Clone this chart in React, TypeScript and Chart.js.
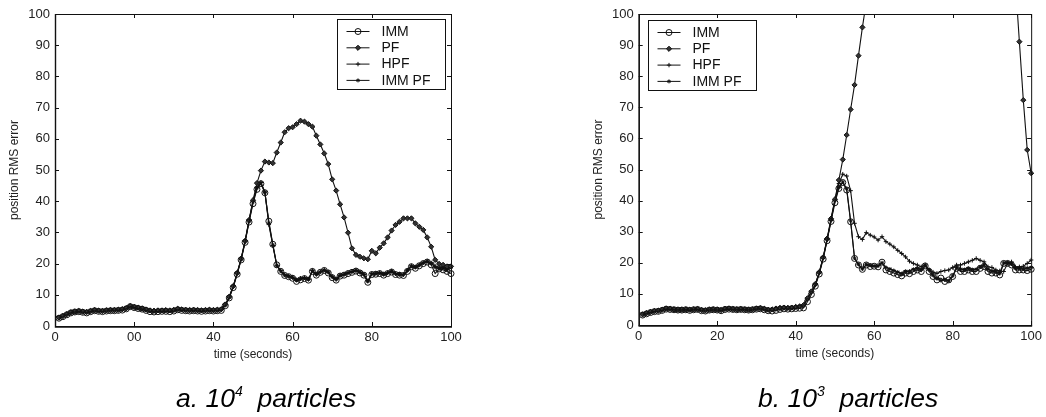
import React, { useEffect, useRef } from 'react';
import { Chart, registerables } from 'chart.js';

Chart.register(...registerables);

// ---------- data ----------
const time = [
  1, 2, 3, 4, 5, 6, 7, 8, 9, 10,
  11, 12, 13, 14, 15, 16, 17, 18, 19, 20,
  21, 22, 23, 24, 25, 26, 27, 28, 29, 30,
  31, 32, 33, 34, 35, 36, 37, 38, 39, 40,
  41, 42, 43, 44, 45, 46, 47, 48, 49, 50,
  51, 52, 53, 54, 55, 56, 57, 58, 59, 60,
  61, 62, 63, 64, 65, 66, 67, 68, 69, 70,
  71, 72, 73, 74, 75, 76, 77, 78, 79, 80,
  81, 82, 83, 84, 85, 86, 87, 88, 89, 90,
  91, 92, 93, 94, 95, 96, 97, 98, 99, 100,
];

// a. 10^4 particles
const immA = [
  2.5, 3.0, 3.6, 4.2, 4.5, 4.6, 4.4, 4.2, 4.6, 4.9,
  4.7, 4.6, 4.8, 4.9, 4.9, 5.0, 5.1, 5.5, 6.2, 5.9,
  5.6, 5.4, 5.0, 4.6, 4.5, 4.6, 4.7, 4.7, 4.6, 4.8,
  5.2, 5.0, 4.9, 4.8, 4.9, 4.8, 4.7, 4.8, 4.9, 4.8,
  4.9, 5.0, 6.5, 9.0, 12.3, 16.6, 21.2, 26.8, 33.3, 39.2,
  43.8, 45.6, 42.7, 33.6, 26.2, 19.6, 17.5, 16.2, 15.8, 15.3,
  14.3, 14.8, 15.2, 14.7, 17.5, 16.3, 17.2, 17.8, 17.0, 15.5,
  14.7, 16.0, 16.3, 16.8, 17.2, 17.6, 17.0, 16.3, 14.0, 16.5,
  16.6, 16.8, 16.3, 16.8, 17.3, 16.5, 16.3, 16.2, 17.5, 19.0,
  18.5, 19.3, 20.0, 20.5, 19.6, 16.8, 18.3, 18.0, 17.5, 16.8,
];
const pfA = [
  2.7, 3.2, 3.8, 4.4, 4.6, 4.8, 4.6, 4.5, 4.8, 5.1,
  4.9, 4.8, 5.0, 5.1, 5.1, 5.2, 5.4, 5.7, 6.4, 6.1,
  5.9, 5.6, 5.3, 5.0, 4.9, 5.0, 5.0, 5.1, 5.0, 5.2,
  5.5, 5.3, 5.2, 5.1, 5.2, 5.1, 5.0, 5.1, 5.2, 5.1,
  5.2, 5.4, 6.9, 9.4, 12.8, 17.0, 21.6, 27.3, 34.0, 40.3,
  45.8, 49.8, 52.7, 52.4, 52.2, 55.6, 58.8, 62.1, 63.4, 63.7,
  64.7, 65.8, 65.5, 64.7, 63.9, 61.0, 58.2, 55.3, 51.9, 47.0,
  43.4, 39.0, 34.8, 29.9, 24.9, 22.8, 22.2, 21.7, 21.4, 24.1,
  23.3, 25.1, 26.5, 28.4, 30.6, 32.4, 33.4, 34.5, 34.5, 34.5,
  32.9, 31.8, 30.8, 28.4, 25.4, 21.2, 19.9, 19.6, 19.1, 19.1,
];
const hpfA = [
  2.7, 3.2, 3.8, 4.3, 4.6, 4.8, 4.6, 4.5, 4.8, 5.0,
  4.9, 4.8, 5.0, 5.1, 5.0, 5.2, 5.3, 5.6, 6.3, 6.0,
  5.8, 5.5, 5.2, 4.9, 4.8, 4.9, 4.9, 5.0, 4.9, 5.1,
  5.4, 5.2, 5.1, 5.0, 5.1, 5.0, 4.9, 5.0, 5.1, 5.0,
  5.1, 5.3, 6.8, 9.3, 12.7, 16.9, 21.5, 27.2, 33.8, 40.0,
  44.5, 46.0, 43.0, 32.5, 25.8, 19.3, 17.8, 16.4, 16.0, 15.6,
  14.8, 15.3, 15.5, 15.0, 17.8, 16.6, 17.4, 18.0, 17.3, 15.9,
  15.0, 16.3, 16.6, 17.1, 17.5, 17.9, 17.3, 16.6, 14.5, 16.8,
  16.9, 17.1, 16.6, 17.1, 17.6, 16.8, 16.6, 16.5, 17.9, 19.3,
  18.9, 19.6, 20.3, 20.8, 20.2, 19.2, 18.6, 18.9, 18.2, 19.1,
];
const immPfA = [
  2.6, 3.1, 3.7, 4.3, 4.5, 4.7, 4.5, 4.4, 4.7, 5.0,
  4.8, 4.7, 4.9, 5.0, 5.0, 5.1, 5.2, 5.5, 6.2, 6.0,
  5.7, 5.4, 5.1, 4.8, 4.7, 4.8, 4.8, 4.9, 4.8, 5.0,
  5.3, 5.1, 5.0, 4.9, 5.0, 4.9, 4.8, 4.9, 5.0, 4.9,
  5.0, 5.2, 6.7, 9.2, 12.6, 16.8, 21.4, 27.0, 33.6, 39.8,
  44.3, 45.9, 42.8, 33.0, 26.0, 19.5, 17.6, 16.3, 15.9, 15.5,
  14.6, 15.1, 15.4, 14.9, 17.7, 16.5, 17.3, 17.9, 17.2, 15.7,
  14.9, 16.2, 16.5, 17.0, 17.4, 17.8, 17.2, 16.5, 14.3, 16.7,
  16.8, 17.0, 16.5, 17.0, 17.5, 16.7, 16.5, 16.4, 17.8, 19.2,
  18.8, 19.5, 20.2, 20.7, 20.0, 18.8, 18.4, 18.6, 18.0, 18.8,
];

// b. 10^3 particles
const immB = [
  3.2, 3.6, 4.0, 4.3, 4.4, 4.7, 5.1, 5.0, 4.9, 4.8,
  4.8, 4.9, 4.7, 4.9, 5.0, 4.6, 4.5, 4.8, 4.9, 4.8,
  4.6, 5.0, 5.1, 5.0, 4.9, 5.0, 4.9, 4.8, 4.9, 5.1,
  5.2, 4.9, 4.6, 4.5, 4.7, 5.0, 5.2, 5.1, 5.2, 5.3,
  5.4, 5.5, 7.5, 9.8, 12.5, 16.4, 21.2, 27.1, 33.3, 39.3,
  43.9, 45.8, 43.4, 33.2, 21.4, 19.3, 17.9, 19.3, 18.8, 18.9,
  18.7, 20.2, 17.7, 17.2, 16.7, 16.2, 15.8, 16.7, 16.5, 17.2,
  17.7, 17.2, 19.0, 17.2, 15.6, 14.5, 15.1, 14.0, 14.5, 15.6,
  18.2, 17.2, 17.2, 17.7, 17.2, 17.2, 18.2, 18.8, 17.2, 16.7,
  16.7, 16.1, 19.8, 19.8, 19.3, 17.7, 17.7, 17.7, 17.5, 17.9,
];
const pfB = [
  3.4, 3.8, 4.2, 4.5, 4.6, 4.9, 5.3, 5.2, 5.0, 4.9,
  4.9, 5.0, 4.9, 5.0, 5.1, 4.8, 4.7, 4.9, 5.0, 4.9,
  4.8, 5.2, 5.3, 5.1, 5.0, 5.1, 5.0, 4.9, 5.0, 5.3,
  5.4, 5.2, 4.9, 5.0, 5.3, 5.5, 5.6, 5.5, 5.6, 5.8,
  6.0, 6.4, 8.6, 10.8, 13.2, 17.0, 21.8, 27.8, 34.2, 40.4,
  46.6, 53.2, 61.1, 69.3, 77.2, 86.6, 95.7, 104, 113, 122,
  131, 140, 148, 156, 163, 170, 176, 182, 187, 191,
  195, 198, 200, 202, 203, 203, 202, 201, 199, 196,
  193, 189, 185, 180, 175, 169, 163, 157, 150, 143,
  136, 129, 122, 117, 113, 110, 91.1, 72.3, 56.3, 48.8,
];
const hpfB = [
  3.4, 3.8, 4.2, 4.5, 4.6, 4.9, 5.3, 5.2, 5.0, 4.9,
  4.9, 5.0, 4.9, 5.0, 5.1, 4.8, 4.7, 4.9, 5.0, 4.9,
  4.8, 5.2, 5.3, 5.1, 5.0, 5.1, 5.0, 4.9, 5.0, 5.3,
  5.4, 5.2, 4.9, 5.0, 5.3, 5.5, 5.6, 5.5, 5.6, 5.8,
  5.9, 6.2, 8.4, 10.5, 12.9, 16.7, 21.5, 27.4, 33.6, 40.2,
  45.5, 48.5, 47.9, 43.2, 32.7, 28.4, 27.5, 29.7, 28.9, 28.3,
  27.3, 28.4, 26.8, 26.0, 25.1, 24.0, 23.0, 21.9, 20.5, 19.8,
  19.3, 18.7, 19.3, 17.7, 17.0, 16.6, 17.2, 17.5, 17.7, 18.5,
  19.3, 19.3, 19.8, 20.3, 20.8, 21.4, 20.8, 20.3, 18.7, 18.5,
  17.7, 17.4, 17.2, 19.8, 20.3, 18.7, 18.7, 18.9, 19.8, 20.9,
];
const immPfB = [
  3.5, 3.9, 4.3, 4.5, 4.7, 5.0, 5.4, 5.3, 5.1, 5.0,
  5.0, 5.1, 5.0, 5.1, 5.2, 4.9, 4.8, 5.0, 5.1, 5.0,
  4.9, 5.3, 5.4, 5.2, 5.1, 5.2, 5.1, 5.0, 5.1, 5.4,
  5.5, 5.3, 5.0, 5.1, 5.4, 5.6, 5.7, 5.6, 5.7, 5.9,
  6.0, 6.3, 8.5, 10.6, 13.0, 16.8, 21.6, 27.5, 33.8, 40.0,
  44.2, 46.0, 43.8, 33.5, 21.5, 19.5, 18.0, 19.5, 19.2, 19.0,
  19.0, 20.0, 18.5, 18.0, 17.5, 17.0, 16.5, 17.2, 17.3, 17.9,
  18.2, 17.8, 19.2, 17.8, 16.0, 15.0, 14.3, 14.6, 14.2, 15.8,
  18.5, 18.0, 17.8, 18.2, 17.8, 17.9, 18.7, 19.3, 17.9, 17.3,
  17.1, 16.7, 20.0, 20.1, 19.6, 18.3, 18.2, 18.0, 18.3, 18.5,
];

const seriesNames = ['IMM', 'PF', 'HPF', 'IMM PF'];
const xTickLabelsA = ['0', '00', '40', '60', '80', '100'];
const xTickLabelsB = ['0', '20', '40', '60', '80', '100'];
const xTitle = 'time (seconds)';
const yTitle = 'position RMS error';
const captionA = ['a. 10', '4', 'particles'];
const captionB = ['b. 10', '3', 'particles'];

// ---------- styles ----------
const INK = '#111';
const seriesStyles = [
  { pointStyle: 'circle', radius: 3, fill: 'rgba(255,255,255,0)' },
  { pointStyle: 'rectRot', radius: 2.6, fill: '#333' },
  { pointStyle: 'cross', radius: 2.2, fill: INK },
  { pointStyle: 'star', radius: 2, fill: INK },
];
const FONT = '"Liberation Sans", Arial, Helvetica, sans-serif';

function drawMarker(ctx: CanvasRenderingContext2D, style: string, x: number, y: number, r: number, fill: string) {
  ctx.beginPath();
  if (style === 'circle') {
    ctx.arc(x, y, r, 0, Math.PI * 2);
    ctx.fillStyle = fill; ctx.fill(); ctx.stroke();
  } else if (style === 'rectRot') {
    ctx.moveTo(x, y - r); ctx.lineTo(x + r, y); ctx.lineTo(x, y + r); ctx.lineTo(x - r, y); ctx.closePath();
    ctx.fillStyle = fill; ctx.fill(); ctx.stroke();
  } else if (style === 'cross') {
    ctx.moveTo(x - r, y); ctx.lineTo(x + r, y); ctx.moveTo(x, y - r); ctx.lineTo(x, y + r); ctx.stroke();
  } else {
    const d = r * Math.SQRT1_2;
    ctx.moveTo(x - r, y); ctx.lineTo(x + r, y); ctx.moveTo(x, y - r); ctx.lineTo(x, y + r);
    ctx.moveTo(x - d, y - d); ctx.lineTo(x + d, y + d); ctx.moveTo(x - d, y + d); ctx.lineTo(x + d, y - d);
    ctx.stroke();
  }
}

const frameLegendPlugin = {
  id: 'frameLegend',
  afterDatasetsDraw(chart: any, _args: any, opts: any) {
    const { ctx, chartArea: a, scales } = chart;
    ctx.save();
    ctx.strokeStyle = INK;
    ctx.lineWidth = 1;
    ctx.strokeRect(a.left + 0.5, a.top + 0.5, a.right - a.left, a.bottom - a.top);
    ctx.lineWidth = 1.4;
    ctx.beginPath();
    ctx.moveTo(a.left + 0.5, a.top); ctx.lineTo(a.left + 0.5, a.bottom + 1);
    ctx.lineTo(a.right + 1, a.bottom + 1);
    ctx.stroke();
    ctx.lineWidth = 1;
    const tl = 4;
    ctx.beginPath();
    scales.x.ticks.forEach((t: any) => {
      const px = Math.round(scales.x.getPixelForValue(t.value)) + 0.5;
      ctx.moveTo(px, a.bottom); ctx.lineTo(px, a.bottom - tl);
      ctx.moveTo(px, a.top); ctx.lineTo(px, a.top + tl);
    });
    scales.y.ticks.forEach((t: any) => {
      const py = Math.round(scales.y.getPixelForValue(t.value)) + 0.5;
      ctx.moveTo(a.left, py); ctx.lineTo(a.left + tl, py);
      ctx.moveTo(a.right, py); ctx.lineTo(a.right - tl, py);
    });
    ctx.stroke();

    // legend
    const w = 108, h = 70;
    const bx = Math.round(opts.anchor === 'right' ? a.right - opts.dx - w : a.left + opts.dx) + 0.5;
    const by = Math.round(a.top + opts.dy) + 0.5;
    ctx.fillStyle = '#fff';
    ctx.fillRect(bx, by, w, h);
    ctx.strokeRect(bx, by, w, h);
    ctx.font = `14px ${FONT}`;
    ctx.textBaseline = 'middle';
    ctx.textAlign = 'left';
    chart.data.datasets.forEach((ds: any, i: number) => {
      const st = seriesStyles[i];
      const y = by + 12 + i * 16.3;
      ctx.beginPath();
      ctx.moveTo(bx + 9, y); ctx.lineTo(bx + 32, y);
      ctx.stroke();
      drawMarker(ctx, st.pointStyle, bx + 20.5, y, st.radius, st.fill);
      ctx.fillStyle = INK;
      ctx.fillText(ds.label, bx + 44, y + 0.5);
    });
    ctx.restore();
  },
};

function makeConfig(series: number[][], xLabels: string[], pad: any, legendOpts: any) {
  return {
    type: 'line' as const,
    data: {
      datasets: series.map((vals, i) => ({
        label: seriesNames[i],
        data: time.map((t, k) => ({ x: t, y: vals[k] })),
        borderColor: INK,
        borderWidth: 1.1,
        pointStyle: seriesStyles[i].pointStyle,
        pointRadius: seriesStyles[i].radius,
        pointBorderWidth: 1,
        pointBorderColor: INK,
        pointBackgroundColor: seriesStyles[i].fill,
        backgroundColor: seriesStyles[i].fill,
        tension: 0,
        fill: false,
        clip: { left: 6, right: 6, top: 0, bottom: 6 },
      })),
    },
    options: {
      animation: false,
      responsive: false,
      maintainAspectRatio: false,
      devicePixelRatio: 1,
      layout: { padding: pad },
      plugins: {
        legend: { display: false },
        tooltip: { enabled: false },
        frameLegend: legendOpts,
      },
      scales: {
        x: {
          type: 'linear',
          min: 0,
          max: 100,
          afterFit: (s: any) => { s.height = 40; },
          grid: { display: false, drawTicks: false },
          border: { display: false },
          ticks: {
            stepSize: 20,
            padding: 4,
            color: '#222',
            font: { family: FONT, size: 13 },
            maxRotation: 0,
            callback: (v: number) => xLabels[Math.round(v / 20)],
          },
          title: {
            display: true,
            text: xTitle,
            color: '#222',
            font: { family: FONT, size: 12 },
            padding: { top: 0, bottom: 4 },
          },
        },
        y: {
          min: 0,
          max: 100,
          afterFit: (s: any) => { s.width = 55; },
          grid: { display: false, drawTicks: false },
          border: { display: false },
          ticks: {
            stepSize: 10,
            padding: 5,
            color: '#222',
            font: { family: FONT, size: 13 },
          },
          title: {
            display: true,
            text: yTitle,
            color: '#222',
            font: { family: FONT, size: 12 },
            padding: { top: 7.5, bottom: 0 },
          },
        },
      },
    },
    plugins: [frameLegendPlugin],
  };
}

function Panel(props: { left: number; series: number[][]; xLabels: string[]; pad: any; legendOpts: any }) {
  const ref = useRef<HTMLCanvasElement | null>(null);
  useEffect(() => {
    if (!ref.current) return;
    const chart = new Chart(ref.current, makeConfig(props.series, props.xLabels, props.pad, props.legendOpts) as any);
    return () => chart.destroy();
  }, []);
  return (
    <canvas
      ref={ref}
      width={523}
      height={417}
      style={{ position: 'absolute', left: props.left, top: 0, width: 523, height: 417, display: 'block' }}
    />
  );
}

function Caption(props: { left: number; parts: string[] }) {
  return (
    <div
      style={{
        position: 'absolute',
        left: props.left,
        top: 386,
        font: `italic 26.5px ${FONT}`,
        lineHeight: '25px',
        whiteSpace: 'pre',
        color: '#000',
      }}
    >
      {props.parts[0]}
      <span style={{ fontSize: 14, position: 'relative', top: -11 }}>{props.parts[1]}</span>
      {'  ' + props.parts[2]}
    </div>
  );
}

export default function App() {
  return (
    <div style={{ position: 'fixed', left: 0, top: 0, width: 1046, height: 417, background: '#fff', overflow: 'hidden' }}>
      <Panel
        left={0}
        series={[immA, pfA, hpfA, immPfA]}
        xLabels={xTickLabelsA}
        pad={{ left: 0, top: 14, right: 72, bottom: 51 }}
        legendOpts={{ anchor: 'right', dx: 6, dy: 5 }}
      />
      <Panel
        left={523}
        series={[immB, pfB, hpfB, immPfB]}
        xLabels={xTickLabelsB}
        pad={{ left: 60.7, top: 14, right: 13, bottom: 52 }}
        legendOpts={{ anchor: 'left', dx: 9.5, dy: 6 }}
      />
      <Caption left={176} parts={captionA} />
      <Caption left={758} parts={captionB} />
    </div>
  );
}
